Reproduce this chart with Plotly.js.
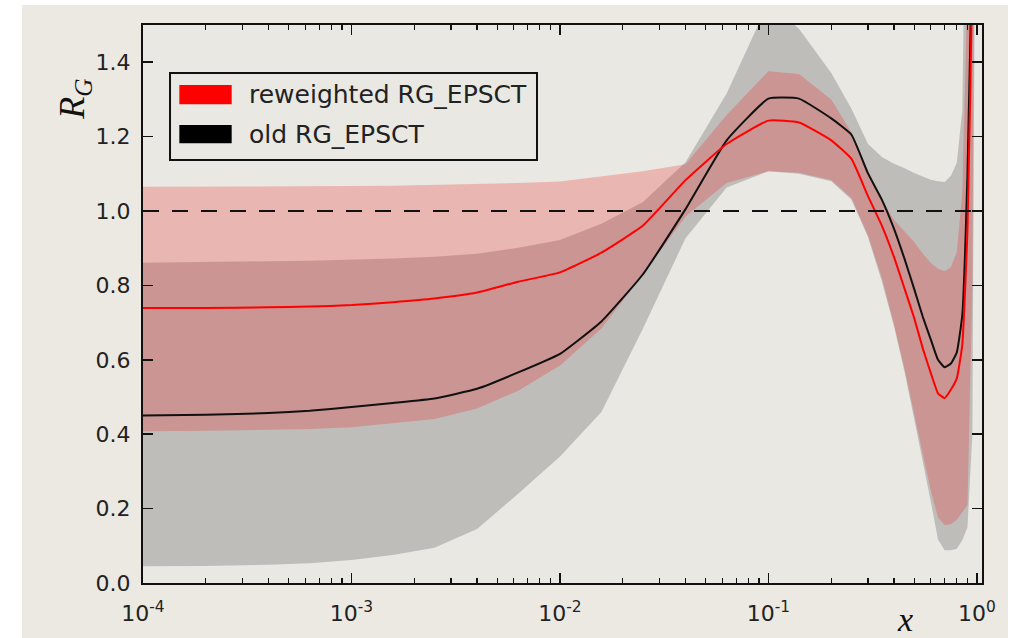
<!DOCTYPE html>
<html>
<head>
<meta charset="utf-8">
<script src="https://cdn.plot.ly/plotly-3.0.1.min.js"></script>
<style>
  html, body { margin: 0; padding: 0; background: #ffffff; width: 1017px; height: 638px; overflow: hidden; }
  #chart { position: absolute; left: 22px; top: 5px; width: 986px; height: 633px; }
</style>
</head>
<body>
<div id="chart"></div>
<script>
// x grid (log-spaced at small x, linear at large x)
const xGrid = [1e-4, 2e-4, 4e-4, 6.3e-4, 1e-3, 1.58e-3, 2.5e-3, 4e-3, 6.3e-3, 0.01, 0.0158, 0.025, 0.04, 0.063,
               0.1, 0.14, 0.2, 0.25,
               0.3, 0.35, 0.4, 0.45, 0.5, 0.55, 0.6, 0.65, 0.7, 0.75, 0.8, 0.85, 0.9, 0.95, 1.0];

// old RG_EPSCT (black)
const oldCentral = [0.450, 0.452, 0.457, 0.463, 0.473, 0.484, 0.496, 0.522, 0.566, 0.616, 0.703, 0.830, 1.005, 1.190,
                    1.302, 1.302, 1.249, 1.205,
                    1.101, 1.030, 0.952, 0.870, 0.790, 0.715, 0.655, 0.600, 0.580, 0.590, 0.620, 0.720, 1.100, 1.750, 3.0];
const oldUpper   = [0.861, 0.862, 0.865, 0.866, 0.868, 0.872, 0.877, 0.885, 0.901, 0.922, 0.966, 1.024, 1.131, 1.316,
                    1.560, 1.490, 1.371, 1.275,
                    1.180, 1.145, 1.127, 1.115, 1.102, 1.092, 1.084, 1.080, 1.078, 1.095, 1.130, 1.270, 1.900, 3.0, 4.0];
const oldLower   = [0.045, 0.046, 0.049, 0.053, 0.062, 0.075, 0.095, 0.145, 0.240, 0.340, 0.460, 0.684, 0.927, 1.063,
                    1.107, 1.100, 1.080, 1.030,
                    0.930, 0.810, 0.690, 0.565, 0.440, 0.330, 0.220, 0.117, 0.088, 0.088, 0.092, 0.115, 0.150, 0.400, 2.8];

// reweighted RG_EPSCT (red)
const newCentral = [0.739, 0.739, 0.741, 0.743, 0.747, 0.755, 0.765, 0.781, 0.810, 0.835, 0.888, 0.961, 1.083, 1.180,
                    1.243, 1.238, 1.190, 1.140,
                    1.040, 0.960, 0.876, 0.790, 0.712, 0.630, 0.565, 0.510, 0.497, 0.520, 0.550, 0.640, 0.950, 1.650, 3.0];
const newUpper   = [1.065, 1.065, 1.066, 1.066, 1.067, 1.068, 1.070, 1.072, 1.075, 1.079, 1.092, 1.107, 1.126, 1.258,
                    1.376, 1.368, 1.300, 1.211,
                    1.110, 1.031, 0.976, 0.945, 0.917, 0.885, 0.860, 0.845, 0.838, 0.849, 0.890, 1.050, 1.600, 3.0, 4.0];
const newLower   = [0.408, 0.409, 0.412, 0.414, 0.419, 0.430, 0.441, 0.469, 0.517, 0.585, 0.684, 0.830, 0.985, 1.075,
                    1.107, 1.103, 1.083, 1.035,
                    0.934, 0.820, 0.695, 0.574, 0.459, 0.346, 0.250, 0.176, 0.156, 0.158, 0.170, 0.190, 0.210, 0.800, 3.2];

const seriesNames = ['reweighted RG_EPSCT', 'old RG_EPSCT'];
const xTickVals = [1e-4, 1e-3, 1e-2, 1e-1, 1];
const xTickText = ['10<sup>-4</sup>', '10<sup>-3</sup>', '10<sup>-2</sup>', '10<sup>-1</sup>', '10<sup>0</sup>'];
const refLevel = 1.0;

// minor tick positions 2..9 per decade
const minorVals = [];
for (let d = -4; d < 0; d++) {
  for (let m = 2; m <= 9; m++) minorVals.push(m * Math.pow(10, d));
}

function band(xs, lo, hi, color, name) {
  return {
    x: xs.concat(xs.slice().reverse()),
    y: hi.concat(lo.slice().reverse()),
    type: 'scatter', mode: 'lines', fill: 'toself',
    fillcolor: color, line: {width: 0, color: 'rgba(0,0,0,0)'},
    hoverinfo: 'skip', showlegend: false, name: name
  };
}

const traces = [
  band(xGrid, oldLower, oldUpper, 'rgba(128,128,128,0.41)', seriesNames[1]),
  band(xGrid, newLower, newUpper, 'rgba(241,30,30,0.25)', seriesNames[0]),
  {x: xGrid, y: oldCentral, type: 'scatter', mode: 'lines', line: {color: '#111111', width: 2, shape: 'spline', smoothing: 0.4}, showlegend: false, name: seriesNames[1]},
  {x: xGrid, y: newCentral, type: 'scatter', mode: 'lines', line: {color: '#ff0000', width: 2, shape: 'spline', smoothing: 0.4}, showlegend: false, name: seriesNames[0]}
];

const tickFont = {family: 'DejaVu Sans', size: 22, color: '#222222'};
const serif = {family: 'Liberation Serif', size: 36, color: '#111111'};
const legendFont = {family: 'DejaVu Sans', size: 25, color: '#222222'};

const layout = {
  width: 986, height: 633,
  margin: {l: 121, r: 26, t: 20, b: 55},
  paper_bgcolor: '#ebe9e1',
  plot_bgcolor: '#e9e8e2',
  showlegend: false,
  xaxis: {
    type: 'log', range: [-4, 0.024],
    tickmode: 'array', tickvals: xTickVals, ticktext: xTickText,
    ticks: 'inside', ticklen: 10, tickwidth: 1.5, tickcolor: '#111111',
    showline: true, linecolor: '#111111', linewidth: 2, mirror: 'allticks',
    showgrid: false, zeroline: false, tickfont: tickFont, ticklabelstandoff: 10,
    minor: {tickmode: 'array', tickvals: minorVals, ticks: 'inside', ticklen: 5, tickwidth: 1.2, tickcolor: '#111111', showgrid: false}
  },
  yaxis: {
    range: [0, 1.5], tick0: 0, dtick: 0.2, tickformat: '.1f',
    ticks: 'inside', ticklen: 10, tickwidth: 1.5, tickcolor: '#111111',
    showline: true, linecolor: '#111111', linewidth: 2, mirror: 'allticks',
    showgrid: false, zeroline: false, tickfont: tickFont, ticklabelstandoff: 6
  },
  shapes: [
    {type: 'line', xref: 'paper', yref: 'y', x0: 0, x1: 1, y0: refLevel, y1: refLevel,
     line: {color: '#111111', width: 2, dash: '16px,13px'}},
    // legend box
    {type: 'rect', xref: 'paper', yref: 'paper', x0: 0.0322, x1: 0.4696, y0: 0.758, y1: 0.914,
     line: {color: '#111111', width: 2}, fillcolor: '#e9e8e2'},
    {type: 'rect', xref: 'paper', yref: 'paper', x0: 0.0433, x1: 0.1057, y0: 0.858, y1: 0.8925,
     line: {width: 0}, fillcolor: '#ff0000'},
    {type: 'rect', xref: 'paper', yref: 'paper', x0: 0.0433, x1: 0.1057, y0: 0.788, y1: 0.8208,
     line: {width: 0}, fillcolor: '#000000'}
  ],
  annotations: [
    {xref: 'paper', yref: 'paper', x: 0.1235, y: 0.8746, xanchor: 'left', yanchor: 'middle', showarrow: false,
     text: seriesNames[0], font: legendFont},
    {xref: 'paper', yref: 'paper', x: 0.1235, y: 0.8029, xanchor: 'left', yanchor: 'middle', showarrow: false,
     text: seriesNames[1], font: legendFont},
    {xref: 'paper', yref: 'paper', x: -0.081, y: 0.866, xanchor: 'center', yanchor: 'middle', showarrow: false,
     textangle: -90, text: '<i>R</i><sub><i>G</i></sub>', font: serif},
    {xref: 'paper', yref: 'paper', x: 0.908, y: -0.066, xanchor: 'center', yanchor: 'middle', showarrow: false,
     text: '<i>x</i>', font: {family: 'Liberation Serif', size: 34, color: '#111111'}}
  ]
};

Plotly.newPlot('chart', traces, layout, {displayModeBar: false, staticPlot: true});
</script>
</body>
</html>
